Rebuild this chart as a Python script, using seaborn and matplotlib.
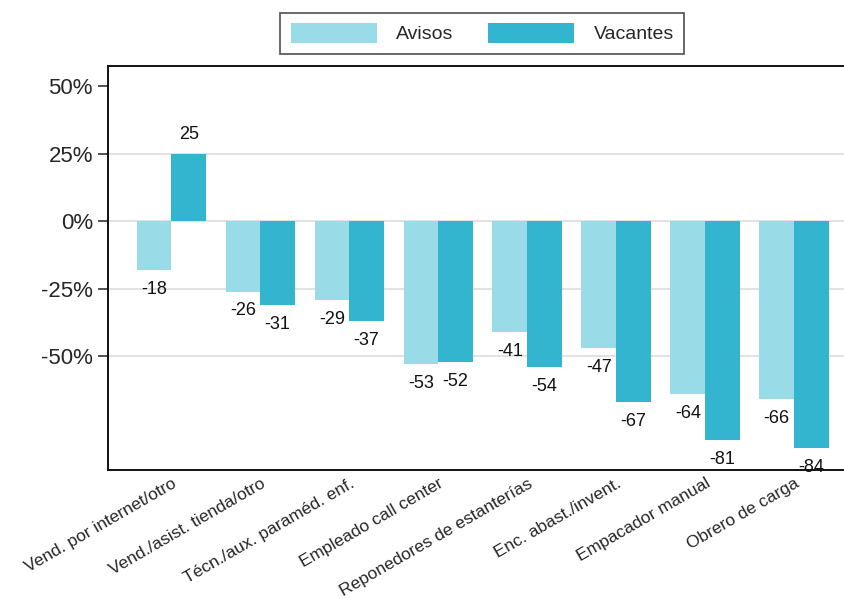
import numpy as np
import pandas as pd
import matplotlib
matplotlib.use("Agg")
import matplotlib.pyplot as plt
import seaborn as sns

categories = [
    "Vend. por internet/otro",
    "Vend./asist. tienda/otro",
    "Técn./aux. paraméd. enf.",
    "Empleado call center",
    "Reponedores de estanterías",
    "Enc. abast./invent.",
    "Empacador manual",
    "Obrero de carga",
]
avisos = [-18, -26, -29, -53, -41, -47, -64, -66]
vacantes = [25, -31, -37, -52, -54, -67, -81, -84]
series_names = ["Avisos", "Vacantes"]
colors = ["#99dce7", "#33b5cf"]

df = pd.DataFrame({
    "ocupacion": categories * 2,
    "serie": [series_names[0]] * len(categories) + [series_names[1]] * len(categories),
    "valor": avisos + vacantes,
})

sns.set_style("white")
plt.rcParams["font.family"] = ["Liberation Sans", "DejaVu Sans"]

fig = plt.figure(figsize=(8.45, 5.99), dpi=100)
ax = fig.add_axes([0.128, 0.215, 0.877, 0.675])

sns.barplot(data=df, x="ocupacion", y="valor", hue="serie", order=categories,
            hue_order=series_names, palette=colors, width=0.78, saturation=1,
            linewidth=0, ax=ax, legend=True)

# value labels outside the bar ends
for cont in ax.containers:
    for bar in cont:
        h = bar.get_height()
        x = bar.get_x() + bar.get_width() / 2
        off = 14 if h >= 0 else -14
        ax.annotate(f"{h:.0f}", (x, h), xytext=(0, off), textcoords="offset points",
                    ha="center", va="center", fontsize=13, color="#111111",
                    annotation_clip=False)

ax.set_ylim(-92.2, 57.6)
ax.set_xlim(-0.71, 7.62)
ax.set_yticks([50, 25, 0, -25, -50])
ax.set_yticklabels(["50%", "25%", "0%", "-25%", "-50%"], fontsize=16)
for yv in [25, 0, -25, -50]:
    ax.axhline(yv, color="#dddddd", lw=1.2, zorder=0)
ax.tick_params(axis="y", direction="out", length=7, width=1.2, color="#333333", pad=4, left=True)
ax.tick_params(axis="x", length=0, pad=4)
ax.set_xticks(range(len(categories)))
ax.set_xticklabels(categories, rotation=30, ha="right", rotation_mode="anchor", fontsize=12.5)
ax.set_xlabel("")
ax.set_ylabel("")
for s in ax.spines.values():
    s.set_color("#111111")
    s.set_linewidth(1.4)

leg = ax.legend(loc="lower center", bbox_to_anchor=(0.505, 1.005), ncol=2, fontsize=14,
                frameon=True, fancybox=False, edgecolor="#222222", handlelength=4.4,
                handleheight=1.15, columnspacing=1.8, handletextpad=1.0,
                borderpad=0.55)
leg.get_frame().set_linewidth(1.2)

fig.savefig("out.png", dpi=100)
